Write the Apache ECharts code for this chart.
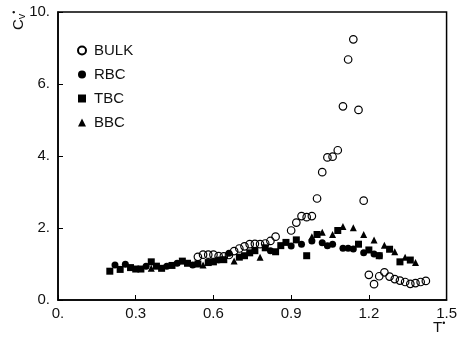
<!DOCTYPE html>
<html>
<head>
<meta charset="utf-8">
<script src="https://cdn.jsdelivr.net/npm/echarts@6/dist/echarts.min.js"></script>
<style>
  html, body { margin: 0; padding: 0; background: #fff; }
  #chart { width: 460px; height: 339px; }
</style>
</head>
<body>
<div id="chart"></div>
<script>
// T* values and specific heat Cv*
var bulkT = [0.54, 0.56, 0.58, 0.60, 0.62, 0.64, 0.66, 0.68, 0.70, 0.72, 0.74, 0.76, 0.78, 0.80, 0.82, 0.84,
  0.90, 0.92, 0.94, 0.96, 0.98, 1.00, 1.02, 1.04, 1.06, 1.08, 1.10, 1.12, 1.14, 1.16, 1.18,
  1.20, 1.22, 1.24, 1.26, 1.28, 1.30, 1.32, 1.34, 1.36, 1.38, 1.40, 1.42];
var bulkCv = [1.20, 1.26, 1.26, 1.26, 1.22, 1.21, 1.25, 1.36, 1.43, 1.49, 1.55, 1.56, 1.55, 1.57, 1.64, 1.76,
  1.93, 2.15, 2.33, 2.30, 2.33, 2.82, 3.55, 3.96, 3.98, 4.16, 5.38, 6.68, 7.24, 5.28, 2.76,
  0.70, 0.44, 0.66, 0.77, 0.65, 0.58, 0.54, 0.50, 0.45, 0.47, 0.50, 0.53];

var rbcT = [0.22, 0.26, 0.34, 0.42, 0.46, 0.52, 0.62, 0.66, 0.82, 0.90, 0.94, 0.98, 1.02, 1.04, 1.06,
  1.10, 1.12, 1.14, 1.18, 1.22, 1.24];
var rbcCv = [0.97, 0.99, 0.94, 0.94, 1.02, 0.97, 1.11, 1.30, 1.37, 1.50, 1.55, 1.64, 1.59, 1.51, 1.55,
  1.44, 1.44, 1.42, 1.31, 1.28, 1.23];

var tbcT = [0.20, 0.24, 0.28, 0.30, 0.32, 0.36, 0.38, 0.40, 0.44, 0.48, 0.50, 0.54, 0.58, 0.60, 0.64,
  0.70, 0.72, 0.74, 0.76, 0.80, 0.84, 0.86, 0.88, 0.92, 0.96, 1.00, 1.08, 1.16, 1.20, 1.24,
  1.28, 1.32, 1.36];
var tbcCv = [0.80, 0.85, 0.90, 0.86, 0.86, 1.06, 0.94, 0.88, 0.96, 1.08, 1.02, 1.00, 1.04, 1.06, 1.12,
  1.19, 1.23, 1.31, 1.37, 1.45, 1.34, 1.51, 1.60, 1.67, 1.23, 1.82, 1.93, 1.55, 1.39, 1.23,
  1.41, 1.06, 1.11];

var bbcT = [0.36, 0.56, 0.68, 0.78, 0.98, 1.02, 1.06, 1.10, 1.14, 1.18, 1.22, 1.26, 1.30, 1.34, 1.38];
var bbcCv = [0.88, 0.97, 1.08, 1.19, 1.76, 1.88, 1.82, 2.04, 2.01, 1.82, 1.67, 1.52, 1.34, 1.19, 1.04];

var xTicks = [0, 0.3, 0.6, 0.9, 1.2, 1.5];
var yTicks = [0, 2, 4, 6, 8];
var yTickLabels = ['0.', '2.', '4.', '6.', '10.'];

function pairs(xs, ys) {
  var out = [];
  for (var i = 0; i < xs.length; i++) out.push([xs[i], ys[i]]);
  return out;
}

var chart = echarts.init(document.getElementById('chart'));
var font = 'Liberation Sans, Arial, sans-serif';

var option = {
  animation: false,
  backgroundColor: '#fff',
  grid: {
    left: 58, right: 11, top: 12, bottom: 39,
    show: true, borderColor: '#000', borderWidth: 1.5
  },
  legend: {
    orient: 'vertical',
    left: 72, top: 38,
    itemWidth: 8, itemHeight: 8, itemGap: 9,
    textStyle: { fontFamily: font, fontSize: 15, color: '#111', padding: [0, 0, 0, 3] },
    data: ['BULK', 'RBC', 'TBC', 'BBC']
  },
  xAxis: {
    type: 'value', min: 0, max: 1.5, interval: 0.3,
    axisLine: { lineStyle: { color: '#000', width: 1.5 } },
    axisTick: { inside: true, length: 5, lineStyle: { color: '#000' } },
    splitLine: { show: false },
    axisLabel: {
      fontFamily: font, fontSize: 15, color: '#111', margin: 6,
      formatter: function (v) {
        var i = xTicks.indexOf(Math.round(v * 10) / 10);
        return v === 0 ? '0.' : xTicks[i].toFixed(1);
      }
    }
  },
  yAxis: {
    type: 'value', min: 0, max: 8, interval: 2,
    axisLine: { lineStyle: { color: '#000', width: 1.5 } },
    axisTick: { inside: true, length: 5, lineStyle: { color: '#000' } },
    splitLine: { show: false },
    axisLabel: {
      fontFamily: font, fontSize: 15, color: '#111', margin: 8,
      formatter: function (v) { return yTickLabels[yTicks.indexOf(v)]; }
    }
  },
  graphic: [
    {
      type: 'text', x: 10, y: 30, rotation: Math.PI / 2,
      style: {
        text: '{c|C}{v|v}{d|•}',
        rich: {
          c: { fontFamily: font, fontSize: 15, fill: '#111' },
          v: { fontFamily: font, fontSize: 11, fill: '#111', padding: [6, 0, 0, 0] },
          d: { fontFamily: font, fontSize: 9, fill: '#111', padding: [0, 0, 8, 0] }
        }
      }
    },
    {
      type: 'text', x: 433, y: 319,
      style: {
        text: '{t|T}{d|•}',
        rich: {
          t: { fontFamily: font, fontSize: 15, fill: '#111' },
          d: { fontFamily: font, fontSize: 9, fill: '#111', padding: [0, 0, 8, 0] }
        }
      }
    }
  ],
  series: [
    {
      name: 'BULK', type: 'scatter', symbol: 'circle', symbolSize: 7.5,
      itemStyle: { color: 'rgba(255,255,255,0)', borderColor: '#000', borderWidth: 1.2, opacity: 1 },
      data: pairs(bulkT, bulkCv)
    },
    {
      name: 'RBC', type: 'scatter', symbol: 'circle', symbolSize: 7,
      itemStyle: { color: '#000', opacity: 1 },
      data: pairs(rbcT, rbcCv)
    },
    {
      name: 'TBC', type: 'scatter', symbol: 'rect', symbolSize: 7,
      itemStyle: { color: '#000', opacity: 1 },
      data: pairs(tbcT, tbcCv)
    },
    {
      name: 'BBC', type: 'scatter', symbol: 'triangle', symbolSize: 7,
      itemStyle: { color: '#000', opacity: 1 },
      data: pairs(bbcT, bbcCv)
    }
  ]
};

chart.setOption(option);
</script>
</body>
</html>
